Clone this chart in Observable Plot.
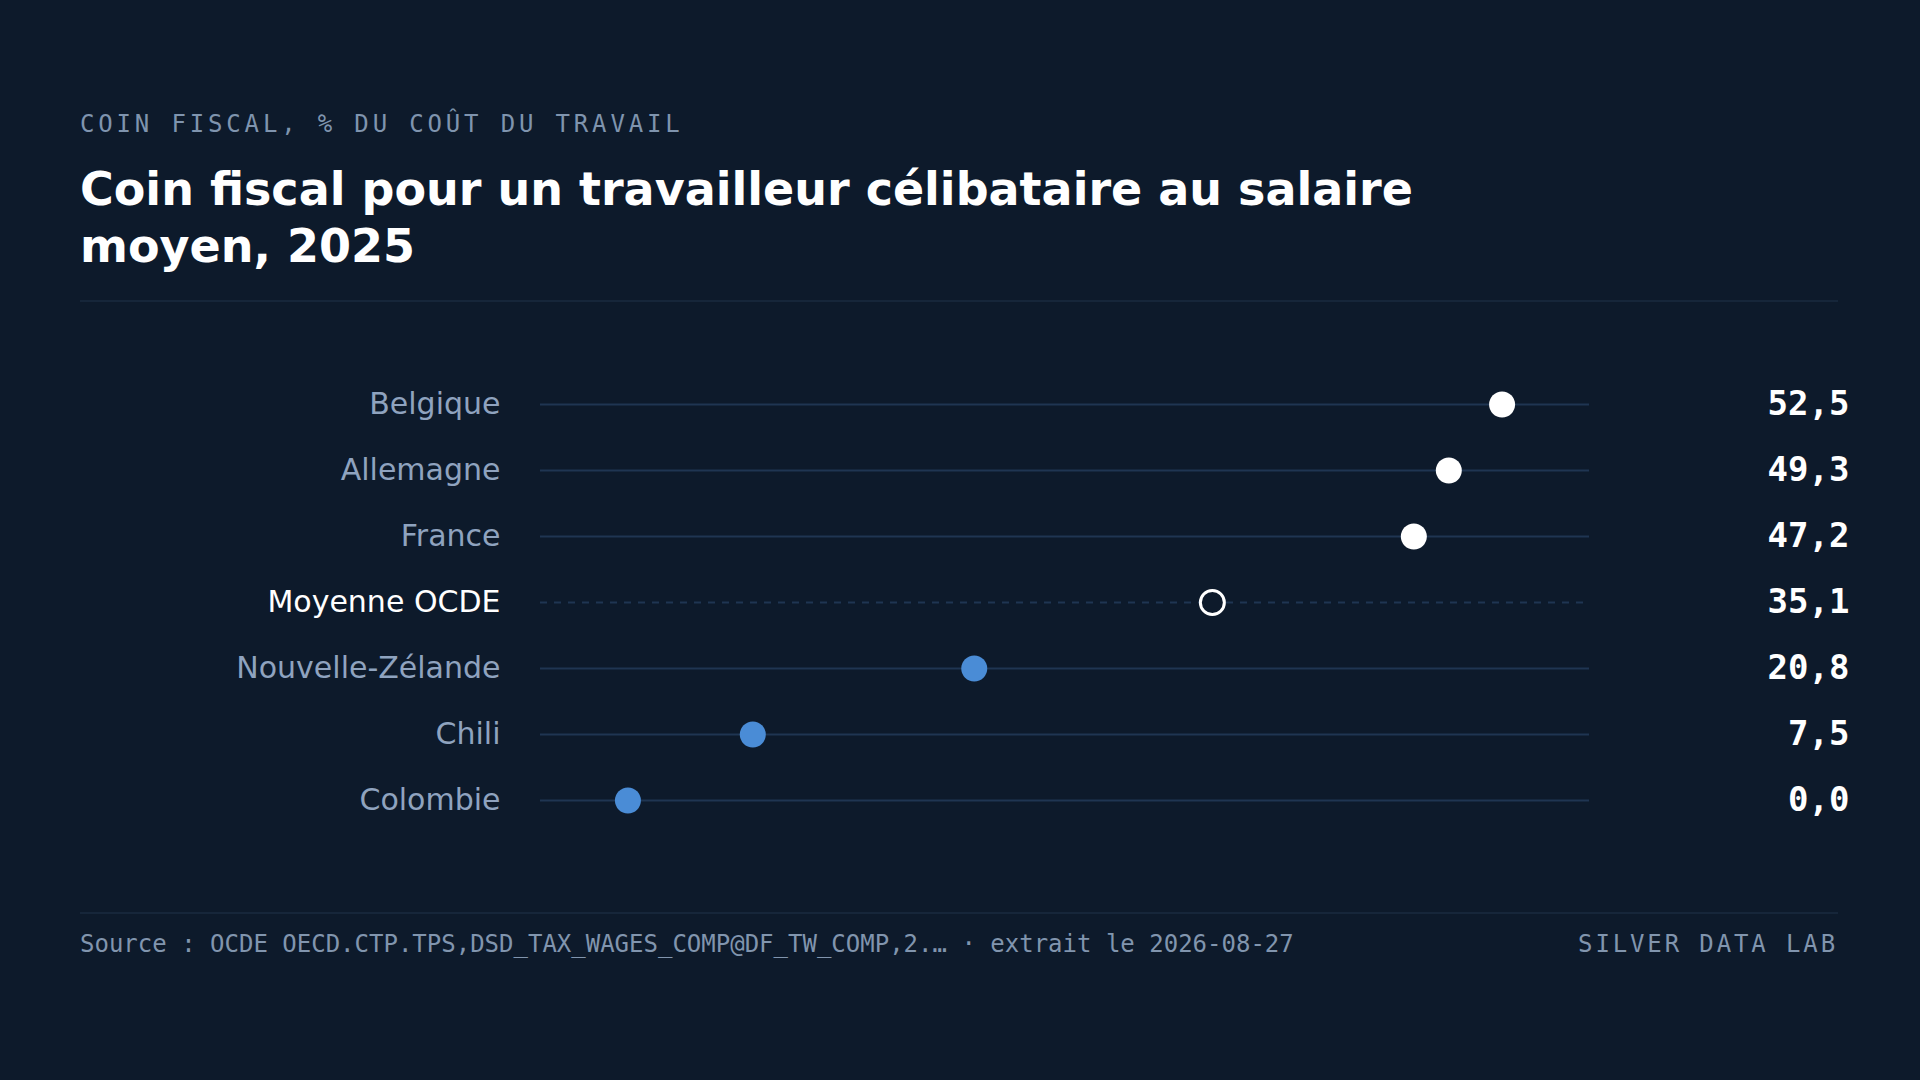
<!DOCTYPE html>
<html><head><meta charset="utf-8">
<script src="https://cdn.jsdelivr.net/npm/d3@7"></script>
<script src="https://cdn.jsdelivr.net/npm/@observablehq/plot@0.6"></script>
<style>
html,body{margin:0;padding:0;background:#0d1a2b;width:1920px;height:1080px;overflow:hidden;}
#page{position:relative;width:1920px;height:1080px;}
.eyebrow{position:absolute;left:80px;top:112px;font:24px/24px "DejaVu Sans Mono";letter-spacing:0.16em;color:#7f94ae;white-space:nowrap;}
.title{position:absolute;left:80px;top:161px;width:1420px;font:bold 46px/57px "DejaVu Sans";color:#ffffff;margin:0;}
.rule{position:absolute;left:80px;width:1758px;height:2px;background:#16263a;}
#chart{position:absolute;left:0;top:302px;}
.source{position:absolute;left:80px;top:932px;font:24px/24px "DejaVu Sans Mono";color:#8195ae;white-space:nowrap;}
.brand{position:absolute;right:82px;top:932px;font:24px/24px "DejaVu Sans Mono";letter-spacing:0.12em;color:#8195ae;white-space:nowrap;}
</style></head>
<body><div id="page">
<div class="eyebrow">COIN FISCAL, % DU COÛT DU TRAVAIL</div>
<h1 class="title">Coin fiscal pour un travailleur célibataire au salaire moyen, 2025</h1>
<div class="rule" style="top:300px"></div>
<div id="chart"></div>
<div class="rule" style="top:912px"></div>
<div class="source">Source : OCDE OECD.CTP.TPS,DSD_TAX_WAGES_COMP@DF_TW_COMP,2.… · extrait le 2026-08-27</div>
<div class="brand">SILVER DATA LAB</div>
</div>
<script>
const countries = ["Belgique","Allemagne","France","Moyenne OCDE","Nouvelle-Zélande","Chili","Colombie"];
const values = [52.5, 49.3, 47.2, 35.1, 20.8, 7.5, 0.0];
const kinds = ["above","above","above","avg","below","below","below"];

const BG = "#0d1a2b";
const dotColor = {above: "#ffffff", below: "#4a8cd6"};
const labelColor = {above: "#8fa3bf", below: "#8fa3bf", avg: "#ffffff"};

const data = countries.map((name, i) => ({name, value: values[i], kind: kinds[i]}));
const regular = data.filter(d => d.kind !== "avg");
const avg = data.filter(d => d.kind === "avg");

const lo = d3.min(values), hi = d3.max(values);
const pad = (hi - lo) * 0.1;
const fmt = v => d3.format(".1f")(v).replace(".", ",");

const chart = Plot.plot({
  width: 1920,
  height: 610,
  marginLeft: 540,
  marginRight: 331,
  marginTop: 0,
  marginBottom: 0,
  style: {background: "transparent", overflow: "visible"},
  x: {domain: [lo - pad, hi + pad], axis: null},
  y: {type: "point", domain: countries, range: [100, 500], padding: 0, axis: null},
  color: {type: "identity"},
  marks: [
    Plot.ruleY(regular, {y: "name", stroke: "#1f3552", strokeWidth: 2}),
    Plot.ruleY(avg, {y: "name", stroke: "#1f3552", strokeWidth: 2, strokeDasharray: "7,7"}),
    Plot.dot(regular, {x: "value", y: "name", r: 13, fill: d => dotColor[d.kind], stroke: null}),
    Plot.dot(avg, {x: "value", y: "name", r: 12, fill: BG, stroke: "#ffffff", strokeWidth: 3}),
    Plot.text(data, {y: "name", text: "name", frameAnchor: "left", dx: -40, textAnchor: "end",
      fill: d => labelColor[d.kind], fontSize: 30, fontFamily: "DejaVu Sans"}),
    Plot.text(data, {y: "name", text: d => fmt(d.value), frameAnchor: "right", dx: 260, textAnchor: "end",
      fill: "#ffffff", fontSize: 34, fontWeight: "bold", fontFamily: "DejaVu Sans Mono"})
  ]
});
document.getElementById("chart").appendChild(chart);
</script>
</body></html>
